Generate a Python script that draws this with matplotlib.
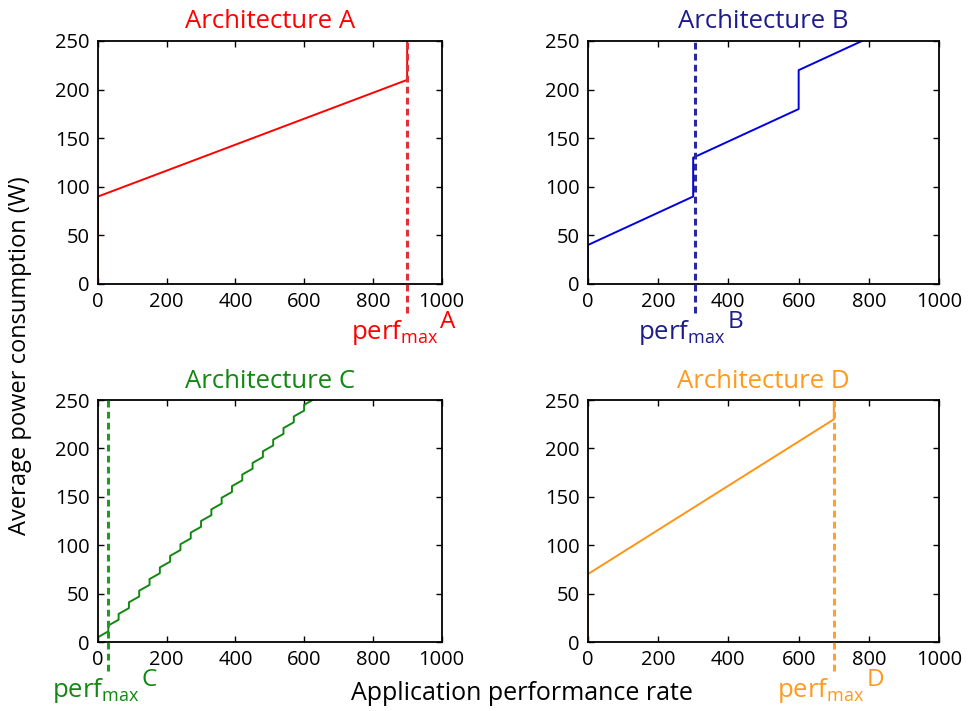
import matplotlib
matplotlib.use('Agg')
import matplotlib.pyplot as plt

# data
titles = ['Architecture A', 'Architecture B', 'Architecture C', 'Architecture D']
letters = ['A', 'B', 'C', 'D']
perf_max = [900, 305, 30, 700]

perf_a = [0, 0, 900, 900]
power_a = [0, 90, 210, 260]

perf_b = [0, 0, 300, 300, 600, 600, 900]
power_b = [0, 40, 90, 130, 180, 220, 270]

c_steps = [30, 60, 90, 120, 150, 180, 210, 240, 270, 300,
           330, 360, 390, 420, 450, 480, 510, 540, 570, 600]
c_before = [11, 23, 35, 47, 59, 71, 83, 95, 107, 119,
            131, 143, 155, 167, 179, 191, 203, 215, 227, 239]
c_after = [17, 29, 41, 53, 65, 77, 89, 101, 113, 125,
           137, 149, 161, 173, 185, 197, 209, 221, 233, 245]
c_end = (630, 251)

perf_d = [0, 0, 700, 700]
power_d = [0, 70, 230, 260]

perf_c = [0, 0]
power_c = [0, 5]
for s, b, a in zip(c_steps, c_before, c_after):
    perf_c += [s, s]
    power_c += [b, a]
perf_c.append(c_end[0])
power_c.append(c_end[1])

series = [(perf_a, power_a), (perf_b, power_b), (perf_c, power_c), (perf_d, power_d)]

title_colors = ['#ff0000', '#1c1c8f', '#118811', '#ff9a1f']
line_colors = ['#ff0000', '#0000e0', '#118811', '#ff9412']
dash_colors = ['#e0303a', '#2828a0', '#229922', '#ffa030']
label_colors = ['#ff0000', '#1c1c8f', '#118811', '#ff9a1f']

plt.rcParams['font.family'] = ['Open Sans', 'DejaVu Sans']
plt.rcParams['mathtext.default'] = 'regular'
plt.rcParams['xtick.direction'] = 'in'
plt.rcParams['ytick.direction'] = 'in'
plt.rcParams['xtick.top'] = True
plt.rcParams['ytick.right'] = True
plt.rcParams['xtick.major.size'] = 4
plt.rcParams['ytick.major.size'] = 4
plt.rcParams['xtick.major.pad'] = 6
plt.rcParams['ytick.major.pad'] = 6

W, H = 968.0, 711.0
fig = plt.figure(figsize=(9.68, 7.11), dpi=100)

# axes boxes in pixels: left, right, top, bottom
boxes = [(98, 441.5, 41, 284), (587.7, 939.3, 41, 284),
         (98, 441.5, 400, 642), (587.7, 939.3, 400, 642)]

for i in range(4):
    l, r, t, b = boxes[i]
    ax = fig.add_axes([l / W, 1 - b / H, (r - l) / W, (b - t) / H])
    x, y = series[i]
    ax.plot(x, y, color=line_colors[i], lw=1.4)
    ax.axvline(perf_max[i], ymin=-0.118, ymax=1, color=dash_colors[i],
               lw=2.2, ls=(0, (2.2, 1.4)), clip_on=False, zorder=3)
    ax.set_xlim(0, 1000)
    ax.set_ylim(0, 250)
    ax.set_xticks([0, 200, 400, 600, 800, 1000])
    ax.set_yticks([0, 50, 100, 150, 200, 250])
    ax.tick_params(labelsize=14.5, width=1)
    for sp in ax.spines.values():
        sp.set_linewidth(1.3)
    ax.set_title(titles[i], color=title_colors[i], fontsize=18.5, pad=9)

    ax.annotate('perf$_{max}$', xy=(perf_max[i], 0), xycoords=('data', 'axes fraction'),
                xytext=(22.3, -39.6), textcoords='offset points',
                ha='right', va='baseline', fontsize=18.5, color=label_colors[i],
                annotation_clip=False)
    ax.annotate(letters[i], xy=(perf_max[i], 0), xycoords=('data', 'axes fraction'),
                xytext=(23.8, -31.7), textcoords='offset points',
                ha='left', va='baseline', fontsize=17.5, color=label_colors[i],
                annotation_clip=False)

fig.text(0.021, 0.5, 'Average power consumption (W)', rotation=90,
         ha='center', va='center', fontsize=17)
fig.text(522 / W, 1 - 693 / H, 'Application performance rate',
         ha='center', va='center', fontsize=18)

fig.savefig('out.png', dpi=100, facecolor='white')
